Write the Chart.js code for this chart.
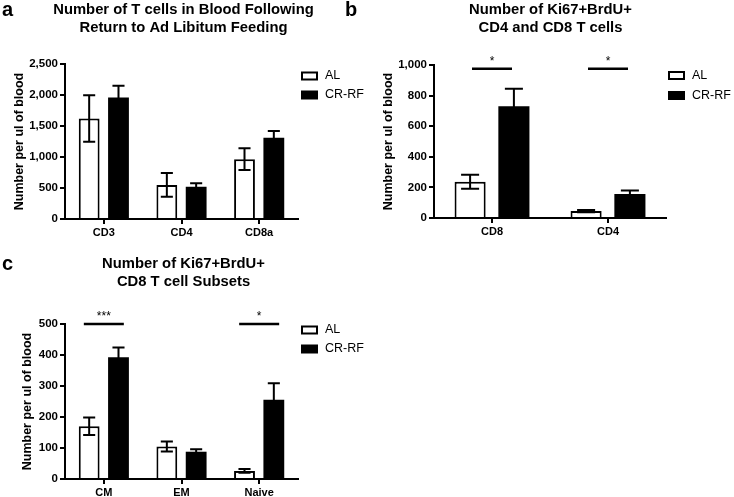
<!DOCTYPE html>
<html>
<head>
<meta charset="utf-8">
<script src="https://cdn.jsdelivr.net/npm/chart.js@4.4.1/dist/chart.umd.min.js"></script>
<style>
  body { margin: 0; background: #fff; }
  #page { position: relative; width: 734px; height: 497px; overflow: hidden; }
  canvas { position: absolute; }
  .tag { position: absolute; font: bold 20px "Liberation Sans", Arial, sans-serif; line-height: 20px; color: #000; }
</style>
</head>
<body>
<div id="page">
  <canvas id="chartA" width="367" height="240" style="left:0;top:0"></canvas>
  <canvas id="chartB" width="367" height="240" style="left:367px;top:0"></canvas>
  <canvas id="chartC" width="367" height="257" style="left:0;top:240px"></canvas>
  <div class="tag" style="left:2px;top:-1px">a</div>
  <div class="tag" style="left:345px;top:-1px">b</div>
  <div class="tag" style="left:2px;top:253px">c</div>
</div>
<script>
const seriesNames = ['AL', 'CR-RF'];
const yTitle = 'Number per ul of blood';

// a: T cells in blood after return to ad libitum feeding
const titleA = ['Number of T cells in Blood Following', 'Return to Ad Libitum Feeding'];
const catsA = ['CD3', 'CD4', 'CD8a'];
const alA = [1620, 550, 965];
const alErrA = [375, 190, 175];
const crA = [1960, 520, 1310];
const crErrA = [190, 55, 110];
const ticksA = [0, 500, 1000, 1500, 2000, 2500];

// b: Ki67+BrdU+ CD4 / CD8
const titleB = ['Number of Ki67+BrdU+', 'CD4 and CD8 T cells'];
const catsB = ['CD8', 'CD4'];
const alB = [237, 45];
const alErrB = [46, 7];
const crB = [730, 157];
const crErrB = [115, 23];
const ticksB = [0, 200, 400, 600, 800, 1000];
const sigB = [{ cat: 'CD8', value: 975, text: '*' }, { cat: 'CD4', value: 975, text: '*' }];

// c: Ki67+BrdU+ CD8 subsets
const titleC = ['Number of Ki67+BrdU+', 'CD8 T cell Subsets'];
const catsC = ['CM', 'EM', 'Naive'];
const alC = [170, 105, 26];
const alErrC = [28, 16, 6];
const crC = [393, 88, 256];
const crErrC = [31, 8, 53];
const ticksC = [0, 100, 200, 300, 400, 500];
const sigC = [{ cat: 'CM', value: 500, text: '***' }, { cat: 'Naive', value: 500, text: '*' }];

Chart.defaults.font.family = '"Liberation Sans", Arial, sans-serif';
Chart.defaults.color = '#000';

// mean +/- error whiskers
const errorBars = {
  id: 'errorBars',
  afterDatasetsDraw(chart) {
    const { ctx } = chart;
    const y = chart.scales.y;
    ctx.save();
    ctx.strokeStyle = '#000';
    ctx.lineWidth = 2;
    chart.data.datasets.forEach((ds, di) => {
      chart.getDatasetMeta(di).data.forEach((bar, i) => {
        const m = ds.data[i], e = ds.errors[i];
        const top = y.getPixelForValue(m + e);
        const bot = y.getPixelForValue(m - e);
        const half = bar.width * 0.29;
        ctx.beginPath();
        ctx.moveTo(bar.x, bot); ctx.lineTo(bar.x, top);
        ctx.moveTo(bar.x - half, top); ctx.lineTo(bar.x + half, top);
        ctx.moveTo(bar.x - half, bot); ctx.lineTo(bar.x + half, bot);
        ctx.stroke();
      });
    });
    ctx.restore();
  }
};

// significance lines with stars
const sigBars = {
  id: 'sigBars',
  afterDatasetsDraw(chart, args, opts) {
    const { ctx } = chart;
    const { x, y } = chart.scales;
    ctx.save();
    ctx.strokeStyle = '#000';
    ctx.fillStyle = '#000';
    ctx.lineWidth = 2.5;
    ctx.font = '12px "Liberation Sans", Arial, sans-serif';
    ctx.textAlign = 'center';
    ctx.textBaseline = 'alphabetic';
    (opts.items || []).forEach(s => {
      const cx = x.getPixelForValue(x.getLabels().indexOf(s.cat));
      const py = y.getPixelForValue(s.value);
      ctx.beginPath();
      ctx.moveTo(cx - opts.half, py);
      ctx.lineTo(cx + opts.half, py);
      ctx.stroke();
      ctx.fillText(s.text, cx, py - 4);
    });
    ctx.restore();
  }
};

// prism-style legend to the right of the plot
const boxLegend = {
  id: 'boxLegend',
  afterDraw(chart, args, opts) {
    const { ctx, chartArea } = chart;
    ctx.save();
    ctx.font = '12.5px "Liberation Sans", Arial, sans-serif';
    ctx.textBaseline = 'middle';
    chart.data.datasets.forEach((ds, i) => {
      const bx = chartArea.right + opts.dx;
      const by = chartArea.top + opts.dy + i * opts.gap;
      ctx.fillStyle = '#000';
      ctx.fillRect(bx, by - 4.5, 17, 9);
      if (ds.backgroundColor !== '#000') {
        ctx.fillStyle = ds.backgroundColor;
        ctx.fillRect(bx + 2, by - 2.5, 13, 5);
      }
      ctx.fillStyle = '#000';
      ctx.fillText(ds.label, bx + 24, by);
    });
    ctx.restore();
  }
};

// two-line panel title, centred on the canvas (the built-in title squeezes long lines)
const panelTitle = {
  id: 'panelTitle',
  afterDraw(chart, args, opts) {
    const { ctx } = chart;
    ctx.save();
    ctx.font = 'bold 14.8px "Liberation Sans", Arial, sans-serif';
    ctx.fillStyle = '#000';
    ctx.textAlign = 'center';
    ctx.textBaseline = 'middle';
    opts.text.forEach((line, i) => ctx.fillText(line, chart.width / 2, opts.y + i * opts.gap));
    ctx.restore();
  }
};

function buildPanel(id, o) {
  return new Chart(document.getElementById(id), {
    type: 'bar',
    data: {
      labels: o.cats,
      datasets: [
        { label: seriesNames[0], data: o.al, errors: o.alErr, backgroundColor: '#fff', borderColor: '#000', borderWidth: 2 },
        { label: seriesNames[1], data: o.cr, errors: o.crErr, backgroundColor: '#000', borderColor: '#000', borderWidth: 0 }
      ]
    },
    options: {
      responsive: false,
      animation: false,
      datasets: { bar: { categoryPercentage: 0.755, barPercentage: 0.71 } },
      layout: { padding: { left: 0, top: o.padTop, right: o.padRight, bottom: 0 } },
      plugins: {
        legend: { display: false },
        tooltip: { enabled: false },
        title: { display: false },
        panelTitle: { text: o.title, y: o.titleY, gap: 18 },
        boxLegend: o.legend,
        sigBars: { items: o.sig || [], half: 20 }
      },
      scales: {
        x: {
          z: 1,
          afterFit: s => { s.height = o.axisBottom; },
          ticks: { color: '#000', font: { size: 11, weight: 'bold' }, padding: 2 },
          grid: { offset: false, drawOnChartArea: false, tickLength: 5, lineWidth: 2, color: '#000' },
          border: { color: '#000', width: 2 }
        },
        y: {
          z: 1,
          min: 0,
          max: o.ticks[o.ticks.length - 1],
          afterBuildTicks: s => { s.ticks = o.ticks.map(v => ({ value: v })); },
          afterFit: s => { s.width = o.axisLeft; },
          ticks: { color: '#000', font: { size: 11.5, weight: 'bold' }, padding: 2, callback: v => v.toLocaleString('en-US') },
          grid: { drawOnChartArea: false, tickLength: 5, lineWidth: 2, color: '#000' },
          border: { color: '#000', width: 2 },
          title: { display: true, text: yTitle, color: '#000', font: { size: 12.5, weight: 'bold' }, padding: { top: o.yTitlePad, bottom: 0 } }
        }
      }
    },
    plugins: [errorBars, sigBars, boxLegend, panelTitle]
  });
}

buildPanel('chartA', {
  cats: catsA, al: alA, alErr: alErrA, cr: crA, crErr: crErrA, ticks: ticksA, title: titleA,
  axisLeft: 65, padRight: 69, padTop: 64, axisBottom: 21, titleY: 9.5, yTitlePad: 12.5,
  legend: { dx: 3, dy: 12, gap: 19 }
});

buildPanel('chartB', {
  cats: catsB, al: alB, alErr: alErrB, cr: crB, crErr: crErrB, ticks: ticksB, title: titleB, sig: sigB,
  axisLeft: 67, padRight: 68, padTop: 65, axisBottom: 22, titleY: 9.5, yTitlePad: 14.5,
  legend: { dx: 2, dy: 10.5, gap: 20 }
});

buildPanel('chartC', {
  cats: catsC, al: alC, alErr: alErrC, cr: crC, crErr: crErrC, ticks: ticksC, title: titleC, sig: sigC,
  axisLeft: 65, padRight: 69, padTop: 84, axisBottom: 18, titleY: 24, yTitlePad: 20,
  legend: { dx: 3, dy: 6, gap: 19 }
});
</script>
</body>
</html>
